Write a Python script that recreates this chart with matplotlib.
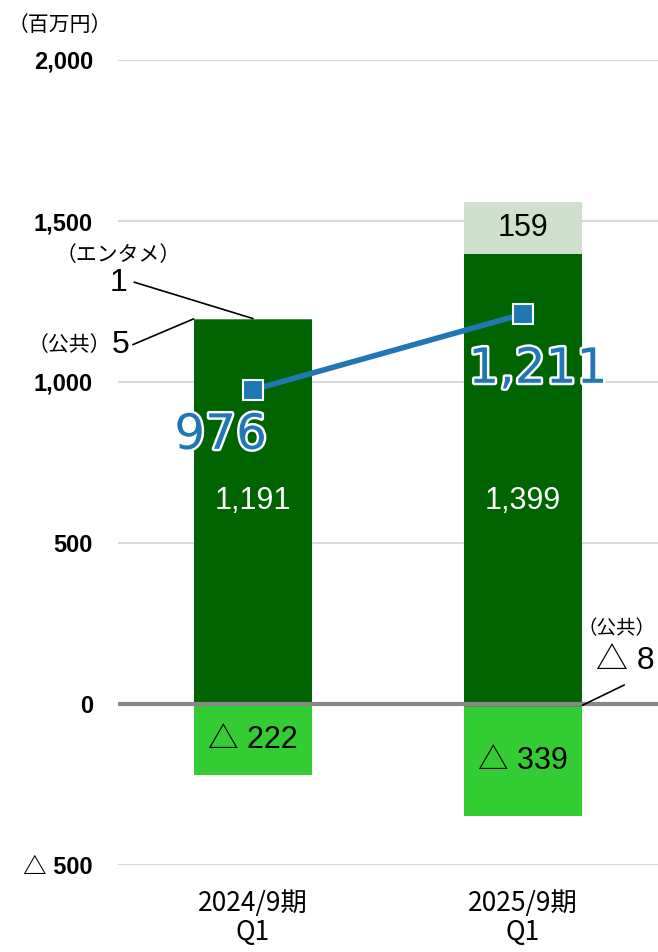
import matplotlib
matplotlib.use("Agg")
import matplotlib.pyplot as plt
import matplotlib.patheffects as pe
import numpy as np

plt.rcParams['font.family'] = ['Liberation Sans', 'Noto Sans CJK JP', 'DejaVu Sans']

# データ
periods = ['2024/9期\nQ1', '2025/9期\nQ1']
main_seg = [1191, 1399]      # 濃い緑
public_seg = [5, -8]         # 公共
entame_seg = [1, 159]        # エンタメ
other_seg = [-222, -339]     # 薄い緑（マイナス）
line_vals = [976, 1211]
yticks = [-500, 0, 500, 1000, 1500, 2000]
ytick_labels = ['△ 500', '0', '500', '1,000', '1,500', '2,000']

c_dark = '#006400'
c_light = '#33cc33'
c_pale = '#cfe0cc'
c_blue = '#1f77b4'

fig = plt.figure(figsize=(6.58, 9.52), dpi=100)
ax = fig.add_axes([118/658, 1-865/952, 540/658, 805/952])

x = np.arange(len(periods))
w = 0.44

ax.bar(x, main_seg, w, color=c_dark, zorder=2)
pub_pos = [max(v, 0) for v in public_seg]
pub_neg = [min(v, 0) for v in public_seg]
ax.bar(x, pub_pos, w, bottom=main_seg, color='#4a8f4a', zorder=2)
ent_bottom = [m + p for m, p in zip(main_seg, pub_pos)]
ax.bar(x, entame_seg, w, bottom=ent_bottom, color=c_pale, zorder=2)
ax.bar(x, pub_neg, w, color='#4a8f4a', zorder=2)
ax.bar(x, other_seg, w, bottom=pub_neg, color=c_light, zorder=2)

ax.axhline(0, color='#888888', lw=3, zorder=3)

ax.plot(x, line_vals, color=c_blue, lw=4, marker='s', ms=15,
        mfc=c_blue, mec='white', mew=1.5, zorder=5)

stroke = [pe.withStroke(linewidth=3.5, foreground='white')]
ax.text(x[0] - 0.12, line_vals[0] - 140, f'{line_vals[0]:,}', color=c_blue,
        fontsize=35, family='DejaVu Sans',
        ha='center', va='center', path_effects=stroke, zorder=6)
ax.text(x[1] + 0.055, line_vals[1] - 170, f'{line_vals[1]:,}', color=c_blue,
        fontsize=35, family='DejaVu Sans',
        ha='center', va='center', path_effects=stroke, zorder=6)

def fmt(v):
    return f'{v:,}' if v >= 0 else f'△ {-v:,}'

for i in x:
    ax.text(i, min(main_seg) / 2 + 35, fmt(main_seg[i]), color='white',
            fontsize=22, ha='center', va='center', zorder=4)
    neg_mid = pub_neg[i] + other_seg[i] / 2
    ax.text(i, neg_mid, fmt(other_seg[i]), color='black',
            fontsize=22, ha='center', va='center', zorder=4)

ax.text(x[1], ent_bottom[1] + entame_seg[1] / 2, fmt(entame_seg[1]),
        color='black', fontsize=22, ha='center', va='center', zorder=4)

# 注記（2024 エンタメ・公共）
top24 = main_seg[0] + public_seg[0] + entame_seg[0]
ax.text(-0.5, 1395, '（エンタメ）', fontsize=15, ha='center', va='center')
ax.text(-0.5, 1308, fmt(entame_seg[0]), fontsize=23, ha='center', va='center')
ax.annotate('', xy=(x[0], top24), xytext=(-0.44, 1310),
            arrowprops=dict(arrowstyle='-', color='black', lw=1.2,
                            shrinkA=0, shrinkB=0), annotation_clip=False)
ax.text(-0.68, 1116, '（公共）', fontsize=15, ha='center', va='center')
ax.text(-0.49, 1116, fmt(public_seg[0]), fontsize=23, ha='center', va='center')
ax.annotate('', xy=(x[0] - w / 2, main_seg[0] + public_seg[0]), xytext=(-0.445, 1116),
            arrowprops=dict(arrowstyle='-', color='black', lw=1.2,
                            shrinkA=0, shrinkB=0), annotation_clip=False)

# 注記（2025 公共）
ax.text(1.345, 232, '（公共）', fontsize=14, ha='center', va='center')
ax.text(1.38, 133, fmt(public_seg[1]), fontsize=23, ha='center', va='center')
ax.annotate('', xy=(x[1] + w / 2, public_seg[1] / 2), xytext=(1.375, 59),
            arrowprops=dict(arrowstyle='-', color='black', lw=1.2,
                            shrinkA=0, shrinkB=0), annotation_clip=False)

ax.set_xlim(-0.5, 1.5)
ax.set_ylim(-500, 2000)
ax.set_yticks(yticks)
ax.set_yticklabels(ytick_labels, fontsize=17, fontweight='bold')
ax.set_xticks(x)
ax.set_xticklabels(periods, fontsize=19, family=['Liberation Sans Narrow', 'Noto Sans CJK JP'],
                   linespacing=1.1)
ax.tick_params(axis='y', length=0, pad=18)
ax.tick_params(axis='x', length=0, pad=18)
ax.grid(axis='y', color='#d9d9d9', lw=1.5, zorder=0)
ax.set_axisbelow(True)
for s in ax.spines.values():
    s.set_visible(False)

fig.text(60/658, 1-25/952, '（百万円）', fontsize=15, ha='center', va='center')

fig.savefig('out.png', dpi=100)
